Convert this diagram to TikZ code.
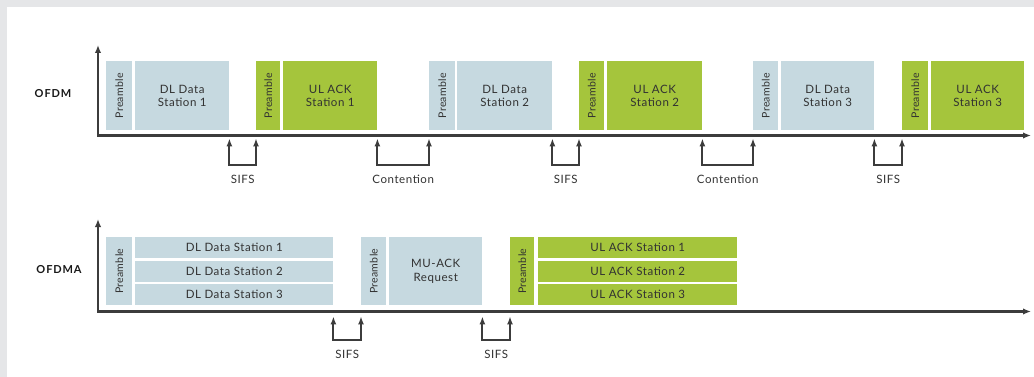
\documentclass[tikz,border=0pt]{standalone}
\usepackage{fontspec}
\usepackage{graphicx}
\setmainfont{Lato}
\usetikzlibrary{arrows.meta,calc}

\definecolor{dlblue}{RGB}{198,217,224}
\definecolor{ulgreen}{RGB}{165,197,60}
\definecolor{axisgrey}{RGB}{60,60,60}
\definecolor{textgrey}{RGB}{50,50,50}
\definecolor{framegrey}{RGB}{229,230,232}

\newcommand{\blockfont}{\fontsize{11.5}{13.5}\selectfont\addfontfeature{LetterSpace=5}}
\newcommand{\prefont}{\fontsize{10.5}{12}\selectfont\addfontfeature{LetterSpace=3}}

\begin{document}
\begin{tikzpicture}[x=1pt,y=-1pt,
    block/.style={anchor=north west, inner sep=0pt, minimum height=69pt,
      align=center, text=textgrey, font=\blockfont},
    dlblock/.style={block, fill=dlblue},
    ulblock/.style={block, fill=ulgreen},
    rowblock/.style={anchor=north west, inner sep=0pt, minimum height=21pt,
      text=textgrey, font=\blockfont},
    preblock/.style={block, font=\prefont},
    axis/.style={axisgrey, line width=2.1pt,
      {Latex[length=8pt,width=6.5pt]}-{Latex[length=8pt,width=6.5pt]}},
    gap/.style={axisgrey, line width=2pt,
      {Latex[length=8pt,width=6pt]}-{Latex[length=8pt,width=6pt]}},
    gaplabel/.style={inner sep=0pt, text=textgrey, font=\blockfont},
    rowlabel/.style={inner sep=0pt, text=black!90,
      font=\fontsize{11}{13}\selectfont\bfseries\addfontfeature{LetterSpace=8}}]

  % frame
  \fill[framegrey] (0,0) rectangle (1034,377);
  \fill[white] (7,7) rectangle (1034,377);
  \useasboundingbox (0,0) rectangle (1034,377);

  % ---------------- OFDM ----------------
  \node[rowlabel] (ofdm) at (53,94) {OFDM};
  \coordinate (ofdmtop) at (98,45);
  \coordinate (ofdmend) at (1031,135.5);
  \draw[axis] (ofdmtop) |- (ofdmend);

  \node[preblock, fill=dlblue, minimum width=26pt] (pre1) at (106,61) {\rotatebox{90}{Preamble}};
  \node[dlblock, minimum width=94pt] (dl1) at (135,61) {DL Data\\Station 1};
  \node[preblock, fill=ulgreen, minimum width=24pt] (upre1) at (256,61) {\rotatebox{90}{Preamble}};
  \node[ulblock, minimum width=94pt] (ul1) at (283,61) {UL ACK\\Station 1};

  \node[preblock, fill=dlblue, minimum width=26pt] (pre2) at (429,61) {\rotatebox{90}{Preamble}};
  \node[dlblock, minimum width=95pt] (dl2) at (457,61) {DL Data\\Station 2};
  \node[preblock, fill=ulgreen, minimum width=25pt] (upre2) at (579,61) {\rotatebox{90}{Preamble}};
  \node[ulblock, minimum width=95pt] (ul2) at (607,61) {UL ACK\\Station 2};

  \node[preblock, fill=dlblue, minimum width=25pt] (pre3) at (753,61) {\rotatebox{90}{Preamble}};
  \node[dlblock, minimum width=93pt] (dl3) at (781,61) {DL Data\\Station 3};
  \node[preblock, fill=ulgreen, minimum width=26pt] (upre3) at (902,61) {\rotatebox{90}{Preamble}};
  \node[ulblock, minimum width=93pt] (ul3) at (931,61) {UL ACK\\Station 3};

  % gaps
  \draw[gap] ($(dl1.south east)+(0,8)$) -- ++(0,27) -| ($(upre1.south west)+(0,8)$)
    node[gaplabel, pos=0.25, below=9pt] (sifs1) {SIFS};
  \draw[gap] ($(ul1.south east)+(0,8)$) -- ++(0,27) -| ($(pre2.south west)+(0,8)$)
    node[gaplabel, pos=0.25, below=9pt] (cont1) {Contention};
  \draw[gap] ($(dl2.south east)+(0,8)$) -- ++(0,27) -| ($(upre2.south west)+(0,8)$)
    node[gaplabel, pos=0.25, below=9pt] (sifs2) {SIFS};
  \draw[gap] ($(ul2.south east)+(0,8)$) -- ++(0,27) -| ($(pre3.south west)+(0,8)$)
    node[gaplabel, pos=0.25, below=9pt] (cont2) {Contention};
  \draw[gap] ($(dl3.south east)+(0,8)$) -- ++(0,27) -| ($(upre3.south west)+(0,8)$)
    node[gaplabel, pos=0.25, below=9pt] (sifs3) {SIFS};

  % ---------------- OFDMA ----------------
  \node[rowlabel] (ofdma) at (59,270) {OFDMA};
  \coordinate (ofdmatop) at (98,219);
  \coordinate (ofdmaend) at (1031,311.5);
  \draw[axis] (ofdmatop) |- (ofdmaend);

  \node[preblock, fill=dlblue, minimum width=26pt, minimum height=68pt] (apre1) at (106,237) {\rotatebox{90}{Preamble}};
  \node[rowblock, fill=dlblue, minimum width=198pt] (dla1) at (135,237) {DL Data Station 1};
  \node[rowblock, fill=dlblue, minimum width=198pt] (dla2) at (135,260.5) {DL Data Station 2};
  \node[rowblock, fill=dlblue, minimum width=198pt] (dla3) at (135,284) {DL Data Station 3};

  \node[preblock, fill=dlblue, minimum width=25pt, minimum height=68pt] (apre2) at (361,237) {\rotatebox{90}{Preamble}};
  \node[dlblock, minimum width=93pt, minimum height=68pt] (mu) at (389,237) {MU-ACK\\Request};

  \node[preblock, fill=ulgreen, minimum width=24pt, minimum height=68pt] (apre3) at (510,237) {\rotatebox{90}{Preamble}};
  \node[rowblock, fill=ulgreen, minimum width=199pt] (ula1) at (538,237) {UL ACK Station 1};
  \node[rowblock, fill=ulgreen, minimum width=199pt] (ula2) at (538,260.5) {UL ACK Station 2};
  \node[rowblock, fill=ulgreen, minimum width=199pt] (ula3) at (538,284) {UL ACK Station 3};

  % gaps
  \draw[gap] ($(dla3.south east)+(0,11)$) -- ++(0,24) -| ($(apre2.south west)+(0,11)$)
    node[gaplabel, pos=0.25, below=9pt] (sifs4) {SIFS};
  \draw[gap] ($(mu.south east)+(0,11)$) -- ++(0,24) -| ($(apre3.south west)+(0,11)$)
    node[gaplabel, pos=0.25, below=9pt] (sifs5) {SIFS};
\end{tikzpicture}
\end{document}
